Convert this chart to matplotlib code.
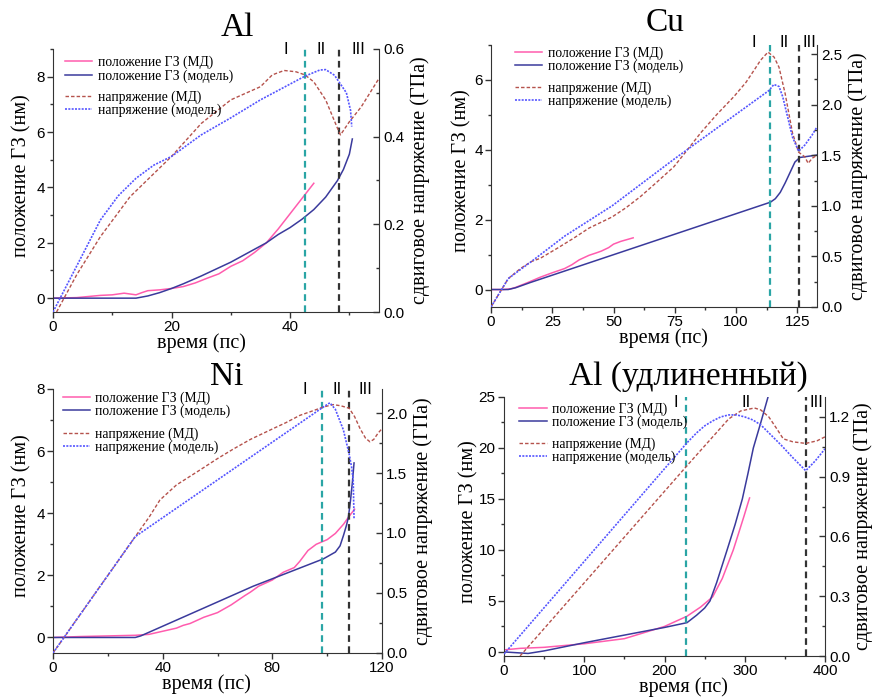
import matplotlib
matplotlib.use('Agg')
import matplotlib.pyplot as plt
from matplotlib.ticker import MultipleLocator, FormatStrFormatter

# ---- Al
al_t_pos_md = [0, 4, 8, 10, 12, 13, 14, 15, 16, 18, 20, 22, 24, 26, 28, 30, 32, 34, 36, 38, 40, 42, 44]
al_pos_md = [0, 0.02, 0.1, 0.12, 0.18, 0.15, 0.12, 0.2, 0.27, 0.3, 0.35, 0.42, 0.55, 0.72, 0.88, 1.15,
             1.35, 1.65, 2.0, 2.5, 3.05, 3.6, 4.15]
al_t_pos_mod = [0, 14, 16, 18, 20, 22, 25, 28, 30, 33, 36, 38, 40, 42, 44, 46, 47, 48, 49, 50, 50.5]
al_pos_mod = [0, 0, 0.08, 0.2, 0.35, 0.52, 0.8, 1.1, 1.3, 1.65, 2.0, 2.3, 2.55, 2.85, 3.2, 3.65, 3.95,
              4.25, 4.65, 5.2, 5.75]
al_t_st_md = [0.6, 4, 8, 13, 20, 25, 30, 35, 37, 39, 41, 42.5, 44, 46, 48, 48.5, 50, 52, 55]
al_st_md = [0, 0.085, 0.172, 0.263, 0.355, 0.43, 0.484, 0.514, 0.541, 0.551, 0.548, 0.541, 0.525,
            0.484, 0.419, 0.404, 0.434, 0.468, 0.533]
al_t_st_mod = [0, 4, 8, 11, 14, 17, 20, 25, 30, 35, 40, 42.5, 45, 46, 47.5, 48.5, 49.5, 50.2, 50.4]
al_st_mod = [0, 0.105, 0.21, 0.265, 0.305, 0.335, 0.355, 0.404, 0.443, 0.484, 0.52, 0.538, 0.552,
             0.553, 0.54, 0.52, 0.5, 0.46, 0.423]

# ---- Cu
cu_t_pos_md = [0, 5, 8, 10, 15, 20, 25, 30, 33, 36, 40, 43, 45, 48, 50, 53, 55, 58]
cu_pos_md = [0, 0, 0.02, 0.06, 0.2, 0.35, 0.48, 0.6, 0.71, 0.85, 0.98, 1.05, 1.1, 1.2, 1.3, 1.38,
             1.42, 1.48]
cu_t_pos_mod = [0, 7, 10, 16, 114, 116, 118, 120, 122, 124, 126, 128, 133]
cu_pos_mod = [0, 0, 0.05, 0.2, 2.5, 2.6, 2.78, 3.05, 3.35, 3.65, 3.78, 3.8, 3.85]
cu_t_st_md = [0, 3, 7, 12, 16.5, 20, 27, 33.7, 40, 49.4, 55, 60.9, 67, 74.6, 80, 85.5, 92, 99.1,
              104, 107.3, 110, 113, 115.5, 117.5, 120, 123, 125.5, 128, 129.4, 131, 133]
cu_st_md = [0, 0.12, 0.28, 0.38, 0.45, 0.48, 0.58, 0.68, 0.78, 0.89, 0.98, 1.09, 1.22, 1.386, 1.55,
            1.72, 1.9, 2.08, 2.22, 2.34, 2.44, 2.52, 2.47, 2.37, 2.11, 1.72, 1.53, 1.485, 1.42,
            1.47, 1.5]
cu_t_st_mod = [0, 3, 7, 12, 16.5, 30, 49.4, 74.6, 99.1, 113.4, 115.4, 117.5, 119, 121, 123, 125.5,
               128, 131, 133]
cu_st_mod = [0, 0.12, 0.28, 0.37, 0.45, 0.7, 1.0, 1.46, 1.89, 2.14, 2.2, 2.18, 2.08, 1.88, 1.68,
             1.54, 1.6, 1.7, 1.78]

# ---- Ni
ni_t_pos_md = [0, 10, 20, 30, 35, 40, 45, 47.5, 50, 55, 60, 65, 70, 72, 75, 80, 84, 88, 90, 93, 96,
               100, 103, 106, 108, 110]
ni_pos_md = [0, 0.03, 0.05, 0.07, 0.1, 0.2, 0.3, 0.39, 0.45, 0.65, 0.8, 1.05, 1.35, 1.46, 1.65,
             1.85, 2.1, 2.25, 2.45, 2.8, 3.0, 3.15, 3.35, 3.65, 3.9, 4.13]
ni_t_pos_mod = [0, 30, 32, 73, 98.6, 101, 103, 104.7, 106, 107, 107.7, 108.5, 109.2, 109.8]
ni_pos_mod = [0, 0, 0.05, 1.65, 2.53, 2.65, 2.75, 2.95, 3.3, 3.6, 3.85, 4.4, 5.0, 5.62]
ni_t_st_md = [0, 30, 35, 39, 45, 53.6, 60, 65.8, 72, 80.3, 85, 90, 95, 98.6, 102.2, 105, 108, 110,
              112, 114, 115.6, 117, 118.5, 120]
ni_st_md = [0, 0.97, 1.13, 1.275, 1.4, 1.525, 1.62, 1.7, 1.78, 1.87, 1.92, 1.98, 2.02, 2.05, 2.07,
            2.06, 2.04, 1.97, 1.87, 1.79, 1.76, 1.78, 1.83, 1.87]
ni_t_st_mod = [0, 30, 98.6, 101, 103, 105.9, 108, 108.9, 109.5, 109.8]
ni_st_mod = [0, 0.97, 2.05, 2.085, 2.03, 1.86, 1.66, 1.55, 1.44, 1.12]

# ---- Al (elongated)
all_t_pos_md = [0, 20, 50, 100, 150, 200, 228, 245, 260, 272, 285.7, 293, 299, 304, 306]
all_pos_md = [0.2, 0.35, 0.45, 0.8, 1.3, 2.5, 3.5, 4.4, 5.4, 7.2, 10, 11.8, 13.3, 14.6, 15.1]
all_t_pos_mod = [0, 30, 50, 100, 150, 200, 228, 240, 250, 256.7, 265, 278, 288, 297, 304, 310.7,
                 320, 329, 331]
all_pos_mod = [0, -0.15, 0.1, 0.9, 1.65, 2.4, 2.87, 3.6, 4.3, 5, 6.8, 10, 12.5, 15, 17.5, 20, 22.5,
               25, 25.6]
all_t_st_md = [20, 228, 280, 295, 312, 320, 330, 340, 348, 360, 376, 390, 400]
all_st_md = [0, 0.955, 1.19, 1.23, 1.245, 1.235, 1.2, 1.14, 1.09, 1.075, 1.067, 1.08, 1.1]
all_t_st_mod = [0, 228, 240, 250, 260, 270, 280, 290, 300, 310, 320, 330, 345, 360, 376, 388, 400]
all_st_mod = [0.01, 1.07, 1.12, 1.155, 1.18, 1.2, 1.21, 1.21, 1.2, 1.185, 1.16, 1.12, 1.06, 0.995,
              0.93, 0.98, 1.04]

LEG_LABELS = ['положение ГЗ (МД)', 'положение ГЗ (модель)', 'напряжение (МД)', 'напряжение (модель)']
ROMAN = ['I', 'II', 'III']

PINK = '#ff5cae'
NAVY = '#3a3a9c'
BROWN = '#b5524c'
BLUE = '#5555ff'
TEAL = '#2aa5a5'
DARK = '#333333'
SERIF = 'Liberation Serif'
SANS = 'Liberation Sans'

plt.rcParams['font.family'] = SANS
W, H = 875, 698
fig = plt.figure(figsize=(W / 100, H / 100), dpi=100)


def draw_panel(px, xlim, ylim, ylim2, xstep, ystep, y2step, vlines, roman_x, roman_y,
               leg, ylab_x, y2lab_x, xlab_x, pos_md, pos_mod, st_md, st_mod):
    left, top, right, bottom = px
    ax = fig.add_axes([left / W, 1 - bottom / H, (right - left) / W, (bottom - top) / H])
    ax2 = ax.twinx()

    l1, = ax.plot(pos_md[0], pos_md[1], color=PINK, lw=1.1)
    l2, = ax.plot(pos_mod[0], pos_mod[1], color=NAVY, lw=1.1)
    l3, = ax2.plot(st_md[0], st_md[1], color=BROWN, lw=1.0, ls=(0, (2.5, 1.5)))
    l4, = ax2.plot(st_mod[0], st_mod[1], color=BLUE, lw=1.2, ls=(0, (1.2, 0.8)))

    ax.axvline(vlines[0], color=TEAL, lw=1.6, ls=(0, (3, 2)))
    ax.axvline(vlines[1], color=DARK, lw=1.6, ls=(0, (3, 2)))
    for x, r in zip(roman_x, ROMAN):
        ax.text(x, roman_y, r, transform=ax.get_xaxis_transform(), ha='center', va='center',
                fontsize=12, fontfamily=SANS)

    ax.set_xlim(*xlim)
    ax.set_ylim(*ylim)
    ax2.set_ylim(*ylim2)
    ax.xaxis.set_major_locator(MultipleLocator(xstep))
    ax.xaxis.set_minor_locator(MultipleLocator(xstep / 2))
    ax.yaxis.set_major_locator(MultipleLocator(ystep))
    ax.yaxis.set_minor_locator(MultipleLocator(ystep / 2))
    ax2.yaxis.set_major_locator(MultipleLocator(y2step))
    ax2.yaxis.set_minor_locator(MultipleLocator(y2step / 2))
    ax2.yaxis.set_major_formatter(FormatStrFormatter('%.1f'))

    for a in (ax, ax2):
        a.spines['top'].set_visible(False)
    ax.spines['right'].set_visible(False)
    ax2.spines['left'].set_visible(False)
    ax2.spines['bottom'].set_visible(False)
    for s in ('left', 'bottom'):
        ax.spines[s].set_color(DARK)
    ax2.spines['right'].set_color(DARK)

    ax.tick_params(which='major', direction='out', length=4, width=1, labelsize=11, pad=2, colors=DARK)
    ax.tick_params(which='minor', direction='out', length=2.5, width=1, colors=DARK)
    ax2.tick_params(which='major', direction='in', length=4, width=1, labelsize=11, pad=3, colors=DARK)
    ax2.tick_params(which='minor', direction='in', length=2.5, width=1, colors=DARK)
    for lab in ax.get_xticklabels() + ax.get_yticklabels() + ax2.get_yticklabels():
        lab.set_color('black')

    ax.set_xlabel('время (пс)', fontfamily=SERIF, fontsize=14.5)
    ax.set_ylabel('положение ГЗ (нм)', fontfamily=SERIF, fontsize=14.5)
    ax2.set_ylabel('сдвиговое напряжение (ГПа)', fontfamily=SERIF, fontsize=14.5)
    # label coords: x label top edge, left label right edge, right label left edge
    ax.xaxis.set_label_coords(xlab_x, -21 / (bottom - top))
    ax.yaxis.set_label_coords(ylab_x, 0.52)
    ax2.yaxis.set_label_coords(y2lab_x, 0.5)

    kw = dict(loc='upper left', frameon=False, borderpad=0, borderaxespad=0, handlelength=2.0,
              handletextpad=0.4, labelspacing=0.0, prop={'family': SERIF, 'size': 9.8})
    leg1 = ax2.legend([l1, l2], LEG_LABELS[:2], bbox_to_anchor=(leg[0], leg[1]), **kw)
    ax2.add_artist(leg1)
    ax2.legend([l3, l4], LEG_LABELS[2:], bbox_to_anchor=(leg[0], leg[2]), **kw)
    return ax, ax2


draw_panel((53, 49, 379, 312), (0, 55), (-0.5, 9), (0, 0.6), 20, 2, 0.2, (42.5, 48.3),
           (39.3, 45.2, 51.6), 1.0, (0.037, 0.974, 0.844), -0.067, 1.095, 0.456,
           (al_t_pos_md, al_pos_md), (al_t_pos_mod, al_pos_mod),
           (al_t_st_md, al_st_md), (al_t_st_mod, al_st_mod))

draw_panel((491, 45, 817, 307), (0, 133), (-0.5, 7), (0, 2.59), 25, 2, 0.5, (113.8, 125.8),
           (107.3, 119.6, 129.8), 1.008, (0.074, 0.995, 0.861), -0.061, 1.095, 0.53,
           (cu_t_pos_md, cu_pos_md), (cu_t_pos_mod, cu_pos_mod),
           (cu_t_st_md, cu_st_md), (cu_t_st_mod, cu_st_mod))

draw_panel((53, 389, 382, 653), (0, 120), (-0.5, 8), (0, 2.2), 40, 2, 0.5, (98.2, 108.1),
           (92, 103.7, 114), 1.0, (0.0295, 0.991, 0.855), -0.065, 1.094, 0.467,
           (ni_t_pos_md, ni_pos_md), (ni_t_pos_mod, ni_pos_mod),
           (ni_t_st_md, ni_st_md), (ni_t_st_mod, ni_st_mod))

draw_panel((504, 397, 825, 656), (0, 400), (-0.4, 25), (0, 1.3), 100, 5, 0.3, (226.8, 376),
           (214, 302, 389), 0.98, (0.048, 0.98, 0.844), -0.081, 1.087, 0.56,
           (all_t_pos_md, all_pos_md), (all_t_pos_mod, all_pos_mod),
           (all_t_st_md, all_st_md), (all_t_st_mod, all_st_mod))

# panel titles
fig.text(237 / W, 1 - 28 / H, 'Al', ha='center', va='center', fontsize=24, fontfamily=SERIF)
fig.text(665 / W, 1 - 23 / H, 'Cu', ha='center', va='center', fontsize=24, fontfamily=SERIF)
fig.text(227 / W, 1 - 377 / H, 'Ni', ha='center', va='center', fontsize=24, fontfamily=SERIF)
fig.text(688 / W, 1 - 377 / H, 'Al (удлиненный)', ha='center', va='center', fontsize=24,
         fontfamily=SERIF)

fig.savefig('out.png', dpi=100)
